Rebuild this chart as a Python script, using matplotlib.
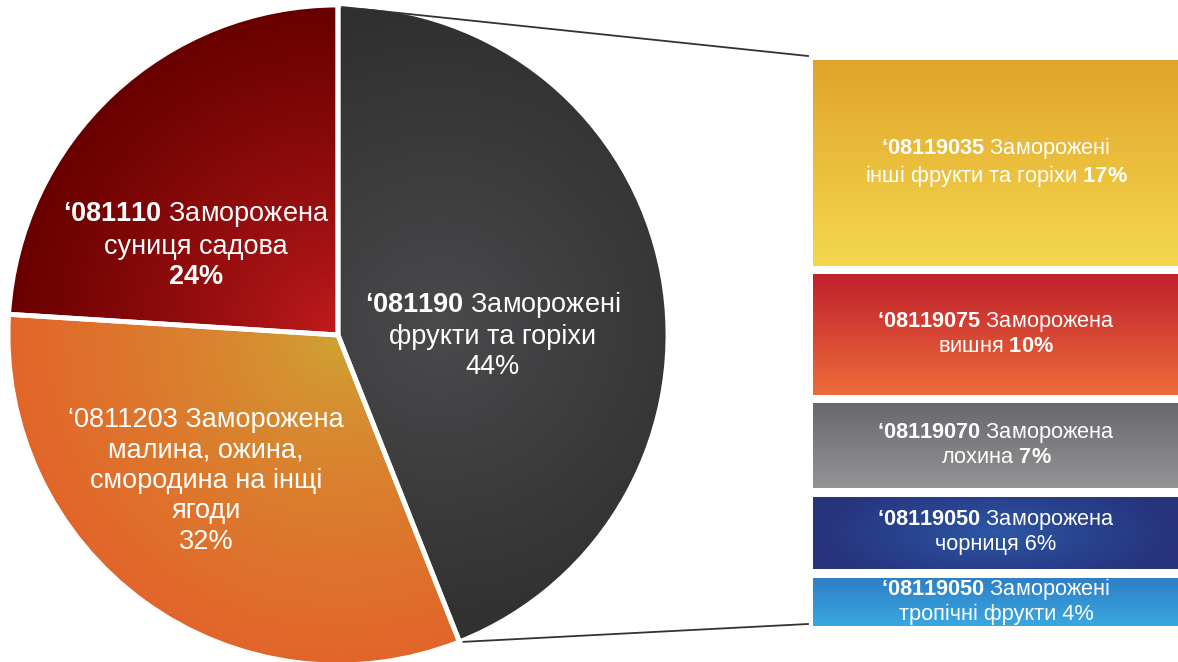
import matplotlib
matplotlib.use("Agg")
import matplotlib.pyplot as plt
import numpy as np
from matplotlib.colors import to_rgb

plt.rcParams['font.family'] = ['Liberation Sans', 'DejaVu Sans']
plt.rcParams['mathtext.fontset'] = 'custom'
plt.rcParams['mathtext.rm'] = 'Liberation Sans'
plt.rcParams['mathtext.it'] = 'Liberation Sans:italic'
plt.rcParams['mathtext.bf'] = 'Liberation Sans:bold'

# main pie: share of frozen fruit groups, %
pie_values = [44, 32, 24]
pie_labels = [r"$\mathbf{‘081190}$ Заморожені" + "\nфрукти та горіхи\n44%",
              "‘0811203 Заморожена\nмалина, ожина,\nсмородина на інщі\nягоди\n32%",
              r"$\mathbf{‘081110}$ Заморожена" + "\nсуниця садова\n" + r"$\mathbf{24\%}$"]

# breakdown of the 44% slice
sub_values = [17, 10, 7, 6, 4]
sub_labels = [r"$\mathbf{‘08119035}$ Заморожені" + "\nінші фрукти та горіхи " + r"$\mathbf{17\%}$",
              r"$\mathbf{‘08119075}$ Заморожена" + "\nвишня " + r"$\mathbf{10\%}$",
              r"$\mathbf{‘08119070}$ Заморожена" + "\nлохина " + r"$\mathbf{7\%}$",
              r"$\mathbf{‘08119050}$ Заморожена" + "\nчорниця 6%",
              r"$\mathbf{‘08119050}$ Заморожені" + "\nтропічні фрукти 4%"]

W, H = 1178, 662
fig = plt.figure(figsize=(W / 100, H / 100), dpi=100)
ax = fig.add_axes([0, 0, 1, 1])

cx, cy, r = 338, 327, 330

wedges, _ = ax.pie(pie_values, startangle=90, counterclock=False, center=(cx, cy), radius=r,
                   colors=['#3a3a3a', '#dd7a2a', '#8a0c0c'],
                   wedgeprops=dict(edgecolor='white', linewidth=3.5))

ax.set_xlim(0, W)
ax.set_ylim(0, H)
ax.set_aspect('equal')
ax.axis('off')

X, Y = np.meshgrid(np.arange(W) + 0.5, np.arange(H) + 0.5)


def lerp(c1, c2, t):
    t = np.clip(t, 0, 1)[..., None]
    return np.array(to_rgb(c1)) * (1 - t) + np.array(to_rgb(c2)) * t


def paint(patch, rgb):
    im = ax.imshow(rgb, extent=(0, W, 0, H), origin='lower', interpolation='bilinear', zorder=2)
    im.set_clip_path(patch)
    patch.set_facecolor('none')
    patch.set_zorder(3)


# radial shading on the pie slices
d = np.hypot(X - cx, Y - cy) / r
d_dark = np.hypot(X - 440, Y - 335) / 330
paint(wedges[0], lerp('#4b4b4e', '#2f2f2f', d_dark ** 0.9))
paint(wedges[1], lerp('#cfa634', '#e2652a', d ** 0.7))
paint(wedges[2], lerp('#c41c1e', '#680000', d ** 0.8))

# stacked boxes for the breakdown
top, bottom_edge, gap = 602, 36, 8.5
unit = (top - bottom_edge - gap * (len(sub_values) - 1)) / sum(sub_values)
heights = [v * unit for v in sub_values]
bottoms = []
y = top
for h in heights:
    y -= h
    bottoms.append(y)
    y -= gap

x0, bw = 813, 366
bars = ax.bar([x0 + bw / 2] * len(sub_values), heights, bottom=bottoms, width=bw, linewidth=0)

box_grads = [('#f5d84e', '#e0a42a'), ('#ee6c3a', '#c0202c'), ('#949497', '#69696d'),
             None, ('#3aa8e0', '#2e7ec6')]
for b, bt, h, g in zip(bars, bottoms, heights, box_grads):
    if g is None:
        rd = np.hypot((X - (x0 + bw / 2)) / 180, (Y - (bt + h / 2)) / 60)
        rgb = lerp('#2c5aa9', '#27337d', rd ** 0.8)
    else:
        rgb = lerp(g[0], g[1], (Y - bt) / h)
    paint(b, rgb)

for lab, bt, h in zip(sub_labels, bottoms, heights):
    ax.text(x0 + bw / 2, bt + h / 2 + 1, lab, ha='center', va='center', color='white',
            fontsize=15.7, linespacing=1.12, zorder=5)

# pie labels
pie_pos = [(493, 327), (206, 181), (196, 417)]
for lab, (tx, ty) in zip(pie_labels, pie_pos):
    ax.text(tx, ty, lab, ha='center', va='center', color='white', fontsize=19.5,
            linespacing=1.22, zorder=5)

# connector lines from the big slice to the boxes
a_end = np.deg2rad(90 - 360 * pie_values[0] / sum(pie_values))
ax.plot([cx + 4, 808], [cy + r - 2, top + 4], color='#333333', lw=1.3, zorder=4)
ax.plot([cx + r * np.cos(a_end) + 4, 808], [cy + r * np.sin(a_end), bottom_edge + 2],
        color='#333333', lw=1.3, zorder=4)

fig.savefig('out.png', dpi=100)
